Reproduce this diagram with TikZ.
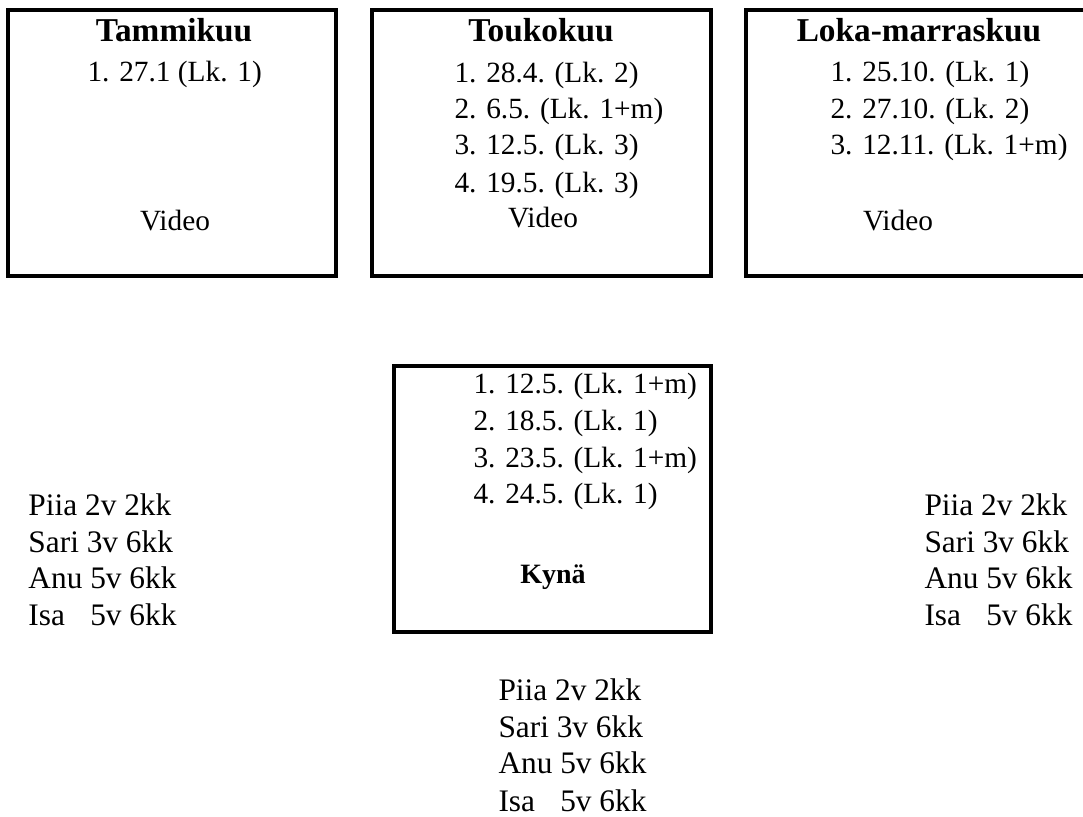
\documentclass[tikz,border=0pt]{standalone}
\usepackage{fontspec}
\setmainfont{Liberation Serif}

\tikzset{every picture/.style={line width=0.75pt}}
\tikzset{
  txt/.style={inner sep=0.75pt, font=\fontsize{22}{26}\selectfont},
  names/.style={inner sep=0.75pt, font=\fontsize{23.5}{27}\selectfont},
  head/.style={inner sep=0.75pt, font=\fontsize{25}{29}\selectfont\bfseries},
  tool/.style={inner sep=0.75pt, font=\fontsize{21}{25}\selectfont\bfseries},
  frame/.style={line width=3.2pt}
}

\begin{document}
\begin{tikzpicture}[x=0.75pt,y=0.75pt,yscale=-1,xscale=1]
\useasboundingbox (0,0) rectangle (1083,817);
\clip (0,0) rectangle (1083,817);

%Shape: Rectangle [tammikuu]
\draw [frame] (8,10) rectangle (336,276) ;
%Shape: Rectangle [toukokuu]
\draw [frame] (372,10) rectangle (711,276) ;
%Shape: Rectangle [loka-marraskuu]
\draw [frame] (746,10) rectangle (1095,276) ;
%Shape: Rectangle [kyna]
\draw [frame] (394,366) rectangle (711,632) ;

% Text Node
\draw (174,42) node [anchor=base][head] (tammiT) {Tammikuu};
% Text Node
\draw (86,82) node [anchor=base west][txt] (tammiA) {1. 27.1 (Lk. 1)};
% Text Node
\draw (175,230) node [anchor=base][txt] (tammiV) {Video};

% Text Node
\draw (541,42) node [anchor=base][head] (toukoT) {Toukokuu};
% Text Node
\draw (453,83) node [anchor=base west][txt] (toukoA) {1. 28.4. (Lk. 2)};
% Text Node
\draw (453,119) node [anchor=base west][txt] (toukoB) {2. 6.5. (Lk. 1+m)};
% Text Node
\draw (453,155) node [anchor=base west][txt] (toukoC) {3. 12.5. (Lk. 3)};
% Text Node
\draw (453,192) node [anchor=base west][txt] (toukoD) {4. 19.5. (Lk. 3)};
% Text Node
\draw (543,227) node [anchor=base][txt] (toukoV) {Video};

% Text Node
\draw (919,42) node [anchor=base][head] (lokaT) {Loka-marraskuu};
% Text Node
\draw (829,82) node [anchor=base west][txt] (lokaA) {1. 25.10. (Lk. 1)};
% Text Node
\draw (829,118) node [anchor=base west][txt] (lokaB) {2. 27.10. (Lk. 2)};
% Text Node
\draw (829,155) node [anchor=base west][txt] (lokaC) {3. 12.11. (Lk. 1+m)};
% Text Node
\draw (898,230) node [anchor=base][txt] (lokaV) {Video};

% Text Node
\draw (472,393) node [anchor=base west][txt] (kynaA) {1. 12.5. (Lk. 1+m)};
% Text Node
\draw (472,430) node [anchor=base west][txt] (kynaB) {2. 18.5. (Lk. 1)};
% Text Node
\draw (472,467) node [anchor=base west][txt] (kynaC) {3. 23.5. (Lk. 1+m)};
% Text Node
\draw (472,503) node [anchor=base west][txt] (kynaD) {4. 24.5. (Lk. 1)};
% Text Node
\draw (553,583) node [anchor=base][tool] (kynaK) {Kynä};

% Text Node
\draw (27,515) node [anchor=base west][names] (leftA) {Piia 2v 2kk};
% Text Node
\draw (27,552) node [anchor=base west][names] (leftB) {Sari 3v 6kk};
% Text Node
\draw (27,588) node [anchor=base west][names] (leftC) {Anu 5v 6kk};
% Text Node
\draw (27,625) node [anchor=base west][names] (leftD) {\rlap{Isa}\phantom{Anu} 5v 6kk};

% Text Node
\draw (923,515) node [anchor=base west][names] (rightA) {Piia 2v 2kk};
% Text Node
\draw (923,552) node [anchor=base west][names] (rightB) {Sari 3v 6kk};
% Text Node
\draw (923,588) node [anchor=base west][names] (rightC) {Anu 5v 6kk};
% Text Node
\draw (923,625) node [anchor=base west][names] (rightD) {\rlap{Isa}\phantom{Anu} 5v 6kk};

% Text Node
\draw (497,700) node [anchor=base west][names] (bottomA) {Piia 2v 2kk};
% Text Node
\draw (497,737) node [anchor=base west][names] (bottomB) {Sari 3v 6kk};
% Text Node
\draw (497,773) node [anchor=base west][names] (bottomC) {Anu 5v 6kk};
% Text Node
\draw (497,811) node [anchor=base west][names] (bottomD) {\rlap{Isa}\phantom{Anu} 5v 6kk};

\end{tikzpicture}
\end{document}
